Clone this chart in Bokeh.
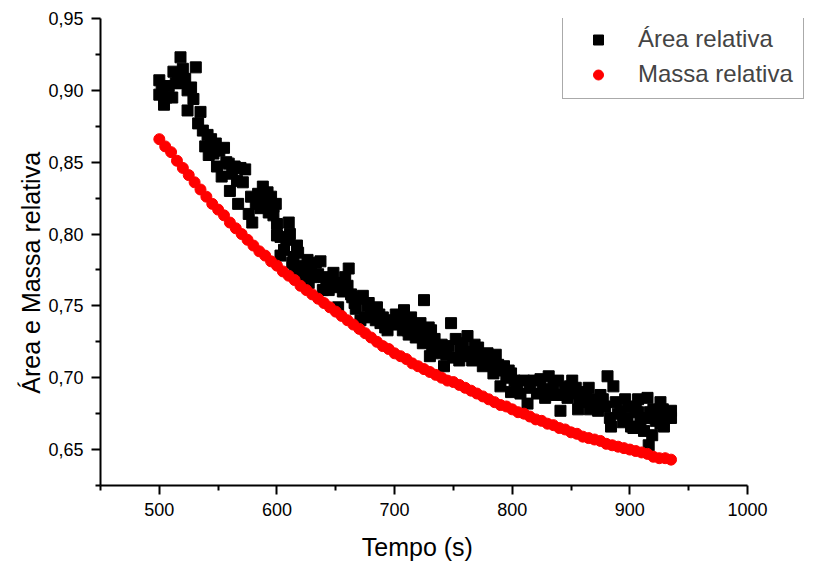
from bokeh.plotting import figure
from bokeh.models import (Range1d, FixedTicker, CustomJSTickFormatter, Legend, LegendItem)
from bokeh.embed import file_html
from bokeh.resources import INLINE

# ---- data ----
area_t = [500, 500, 502, 504, 506, 508, 511, 512, 514, 516, 518, 518, 520, 522, 524, 524, 527, 529, 531, 533,
          535, 537, 539, 541, 542, 544, 546, 548, 549, 551, 553, 555, 557, 559, 560, 562, 564, 566, 567, 569,
          571, 573, 576, 578, 579, 582, 584, 586, 588, 590, 592, 593, 595, 597, 597, 599, 600, 600, 603, 603,
          606, 608, 610, 611, 613, 614, 615, 617, 618, 620, 621, 623, 626, 627, 629, 631, 633, 635, 637, 639,
          640, 642, 644, 646, 648, 650, 652, 653, 654, 656, 658, 660, 661, 663, 664, 666, 667, 669, 671, 673,
          675, 677, 678, 680, 682, 684, 685, 687, 688, 690, 692, 694, 696, 698, 701, 703, 705, 707, 708, 710,
          711, 712, 714, 716, 718, 720, 722, 724, 725, 727, 729, 731, 730, 732, 734, 736, 739, 740, 742, 744,
          746, 748, 750, 752, 755, 756, 758, 760, 762, 764, 766, 768, 771, 773, 775, 777, 779, 781, 784, 786,
          788, 790, 791, 793, 795, 797, 799, 799, 802, 804, 807, 810, 813, 815, 818, 821, 824, 826, 828, 831,
          833, 835, 837, 839, 841, 843, 845, 847, 849, 851, 853, 854, 856, 857, 859, 861, 863, 865, 866, 868,
          870, 873, 875, 877, 879, 881, 883, 884, 886, 888, 890, 892, 894, 896, 898, 899, 901, 903, 905, 907,
          907, 909, 912, 914, 915, 916, 917, 919, 920, 922, 924, 926, 926, 928, 929, 931, 933, 935, 935]
area_v = [0.907, 0.897, 0.902, 0.890, 0.895, 0.903, 0.895, 0.913, 0.905, 0.910, 0.923, 0.905, 0.915, 0.908, 0.900, 0.886, 0.902, 0.894, 0.916, 0.877,
          0.885, 0.872, 0.861, 0.869, 0.855, 0.866, 0.856, 0.863, 0.847, 0.858, 0.840, 0.860, 0.850, 0.849, 0.830, 0.842, 0.847, 0.837, 0.821, 0.846,
          0.836, 0.845, 0.814, 0.826, 0.808, 0.821, 0.828, 0.818, 0.833, 0.823, 0.829, 0.815, 0.826, 0.819, 0.813, 0.821, 0.807, 0.799, 0.798, 0.785,
          0.789, 0.796, 0.808, 0.800, 0.780, 0.784, 0.775, 0.792, 0.787, 0.770, 0.778, 0.773, 0.782, 0.766, 0.775, 0.770, 0.780, 0.772, 0.781, 0.761,
          0.770, 0.767, 0.761, 0.768, 0.773, 0.765, 0.749, 0.763, 0.766, 0.760, 0.770, 0.764, 0.776, 0.758, 0.756, 0.752, 0.748, 0.755, 0.740, 0.757,
          0.742, 0.750, 0.752, 0.745, 0.747, 0.740, 0.749, 0.744, 0.738, 0.742, 0.735, 0.733, 0.740, 0.737, 0.744, 0.740, 0.738, 0.733, 0.747, 0.741,
          0.733, 0.730, 0.742, 0.736, 0.728, 0.735, 0.738, 0.724, 0.754, 0.729, 0.735, 0.733, 0.715, 0.721, 0.727, 0.719, 0.717, 0.723, 0.708, 0.716,
          0.722, 0.738, 0.714, 0.727, 0.712, 0.720, 0.724, 0.715, 0.729, 0.718, 0.712, 0.723, 0.721, 0.714, 0.708, 0.716, 0.717, 0.710, 0.703, 0.716,
          0.709, 0.694, 0.705, 0.708, 0.700, 0.705, 0.703, 0.690, 0.698, 0.694, 0.689, 0.698, 0.682, 0.693, 0.698, 0.689, 0.699, 0.692, 0.686, 0.701,
          0.690, 0.695, 0.688, 0.698, 0.677, 0.688, 0.693, 0.686, 0.694, 0.698, 0.689, 0.693, 0.678, 0.685, 0.690, 0.683, 0.688, 0.693, 0.678, 0.685,
          0.680, 0.677, 0.688, 0.685, 0.680, 0.701, 0.672, 0.666, 0.694, 0.683, 0.675, 0.677, 0.669, 0.685, 0.672, 0.680, 0.666, 0.665, 0.678, 0.676,
          0.685, 0.670, 0.663, 0.672, 0.686, 0.653, 0.676, 0.660, 0.678, 0.670, 0.674, 0.683, 0.668, 0.678, 0.666, 0.672, 0.675, 0.677, 0.672]

massa_t = [500, 505, 510, 515, 520, 525, 530, 535, 540, 545, 550, 555, 560, 565, 570, 575, 580, 585, 590, 595,
           600, 605, 610, 615, 620, 625, 630, 635, 640, 645, 650, 655, 660, 665, 670, 675, 680, 685, 690, 695,
           700, 705, 710, 715, 720, 725, 730, 735, 740, 745, 750, 755, 760, 765, 770, 775, 780, 785, 790, 795,
           800, 805, 810, 815, 820, 825, 830, 835, 840, 845, 850, 855, 860, 865, 870, 875, 880, 885, 890, 895,
           900, 905, 910, 915, 920, 925, 930, 935]
massa_v = [0.866, 0.861, 0.857, 0.851, 0.846, 0.841, 0.836, 0.831, 0.826, 0.821, 0.817, 0.813, 0.808, 0.804, 0.800, 0.796, 0.792, 0.788, 0.785, 0.781,
           0.778, 0.774, 0.771, 0.768, 0.764, 0.761, 0.758, 0.755, 0.752, 0.749, 0.746, 0.743, 0.740, 0.737, 0.734, 0.731, 0.728, 0.725, 0.722, 0.720,
           0.717, 0.715, 0.713, 0.710, 0.708, 0.706, 0.704, 0.702, 0.700, 0.698, 0.697, 0.695, 0.693, 0.691, 0.689, 0.687, 0.685, 0.683, 0.681, 0.680,
           0.678, 0.676, 0.675, 0.673, 0.671, 0.670, 0.668, 0.667, 0.665, 0.664, 0.662, 0.661, 0.659, 0.658, 0.657, 0.656, 0.654, 0.653, 0.652, 0.651,
           0.650, 0.649, 0.648, 0.647, 0.645, 0.644, 0.644, 0.643]

x_major = [500, 600, 700, 800, 900, 1000]
x_minor = [450, 550, 650, 750, 850, 950]
y_major = [0.65, 0.70, 0.75, 0.80, 0.85, 0.90, 0.95]
y_minor = [0.625, 0.675, 0.725, 0.775, 0.825, 0.875, 0.925]
x_axis_span = (450, 1000)

x_title = "Tempo (s)"
y_title = "Área e Massa relativa"
NBSP = "\u00a0"

FONT = "Liberation Sans"

# frame spans 100..817 px horizontally; axis drawn only over 450..1000
p = figure(width=817, height=566, output_backend="svg", toolbar_location=None,
           x_range=Range1d(450, 1059.5), y_range=Range1d(0.625, 0.95),
           min_border_left=100, min_border_right=0, min_border_top=18, min_border_bottom=81)
p.outline_line_color = None
p.xgrid.visible = False
p.ygrid.visible = False
p.background_fill_color = "white"
p.border_fill_color = "white"

r_area = p.scatter(area_t, area_v, marker="square", size=11, fill_color="black", line_color="black")
r_massa = p.scatter(massa_t, massa_v, marker="circle", size=11, fill_color="#ff0000", line_color="#ff0000")

for ax in (p.xaxis[0], p.yaxis[0]):
    ax.axis_line_width = 2
    ax.major_tick_line_width = 2
    ax.minor_tick_line_width = 2
    ax.major_tick_out = 9
    ax.major_tick_in = 0
    ax.minor_tick_out = 5
    ax.minor_tick_in = 0
    ax.major_label_text_font = FONT
    ax.major_label_text_font_size = "18px"
    ax.major_label_text_color = "black"
    ax.axis_label_text_font = FONT
    ax.axis_label_text_font_size = "25px"
    ax.axis_label_text_font_style = "normal"
    ax.axis_label_text_color = "black"

p.xaxis.bounds = x_axis_span
p.xaxis.ticker = FixedTicker(ticks=x_major, minor_ticks=x_minor)
p.yaxis.ticker = FixedTicker(ticks=y_major, minor_ticks=y_minor)
p.yaxis.formatter = CustomJSTickFormatter(code="return tick.toFixed(2).replace('.', ',');")
# trailing no-break spaces shift the visible titles to where the original puts them
p.xaxis.axis_label = x_title + NBSP * 12
p.yaxis.axis_label = y_title + NBSP * 6
p.xaxis.major_label_standoff = 8
p.yaxis.major_label_standoff = 8
p.xaxis.axis_label_standoff = 14
p.yaxis.axis_label_standoff = 0

legend = Legend(items=[LegendItem(label="Área relativa", renderers=[r_area]),
                       LegendItem(label="Massa relativa", renderers=[r_massa])],
                location=(462, 386))
legend.label_text_font = FONT
legend.label_text_font_size = "24px"
legend.border_line_color = "#555555"
legend.border_line_width = 1
legend.padding = 10
legend.margin = 0
legend.glyph_width = 50
legend.glyph_height = 25
legend.label_standoff = 15
legend.spacing = 7
legend.background_fill_alpha = 1
p.add_layout(legend, "center")

open("out.html", "w").write(file_html(p, INLINE))
